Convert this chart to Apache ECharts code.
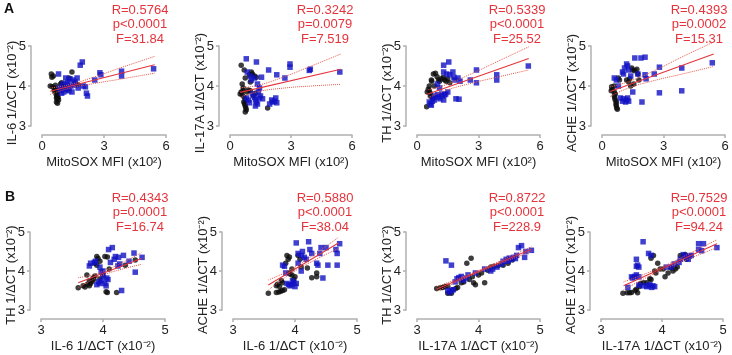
<!DOCTYPE html>
<html>
<head>
<meta charset="utf-8">
<script src="https://cdn.jsdelivr.net/npm/echarts@6/dist/echarts.min.js"></script>
<style>
html, body { margin: 0; padding: 0; background: #fff; }
#chart { width: 732px; height: 355px; }
</style>
</head>
<body>
<div id="chart"></div>
<script>
// tick labels
var xTicksA = [0, 3, 6];
var xTicksB = [3, 4, 5];
var yTicks = [3, 4, 5];

var xNames = ["MitoSOX MFI (x10²)", "MitoSOX MFI (x10²)", "MitoSOX MFI (x10²)", "MitoSOX MFI (x10²)",
  "IL-6 1/ΔCT (x10⁻²)", "IL-6 1/ΔCT (x10⁻²)", "IL-17A 1/ΔCT (x10⁻²)", "IL-17A 1/ΔCT (x10⁻²)"];
var yNames = ["IL-6 1/ΔCT (x10⁻²)", "IL-17A 1/ΔCT (x10⁻²)", "TH 1/ΔCT (x10⁻²)", "ACHE 1/ΔCT (x10⁻²)",
  "TH 1/ΔCT (x10⁻²)", "ACHE 1/ΔCT (x10⁻²)", "TH 1/ΔCT (x10⁻²)", "ACHE 1/ΔCT (x10⁻²)"];
var stats = [
  "R=0.5764\np<0.0001\nF=31.84", "R=0.3242\np=0.0079\nF=7.519",
  "R=0.5339\np<0.0001\nF=25.52", "R=0.4393\np=0.0002\nF=15.31",
  "R=0.4343\np=0.0001\nF=16.74", "R=0.5880\np<0.0001\nF=38.04",
  "R=0.8722\np<0.0001\nF=228.9", "R=0.7529\np<0.0001\nF=94.24"
];

// A1: IL-6 vs MitoSOX
var a1Black = [[0.45,4.30],[0.48,4.22],[0.55,4.25],[0.40,4.00],[0.5,3.98],[0.6,3.95],[0.65,3.92],[0.7,3.88],[0.72,3.85],[0.68,3.8],[0.75,3.78],[0.72,3.74],[0.78,3.72],[0.7,3.7],[0.75,3.68],[0.8,3.65],[0.7,3.6],[0.75,3.57],[0.85,3.9],[0.9,4.05],[0.95,4.08],[1.0,3.95],[1.1,4.0],[1.3,4.2],[1.45,4.35],[1.6,4.08],[1.75,4.03],[1.2,3.9],[0.6,3.88],[0.65,4.02]];
var a1Blue = [[0.8,4.3],[0.85,3.95],[0.9,3.9],[1.0,4.05],[1.1,3.92],[1.15,4.2],[1.2,4.05],[1.25,4.1],[1.3,3.95],[1.35,4.18],[1.4,4.0],[1.45,3.85],[1.5,4.15],[1.55,4.02],[1.6,4.1],[1.7,4.2],[1.75,3.95],[1.85,4.52],[1.95,4.6],[2.0,4.0],[2.1,3.98],[2.15,3.82],[2.2,3.75],[2.55,4.15],[2.8,4.33],[2.85,4.28],[3.85,4.37],[3.85,4.25],[5.4,4.43],[1.05,3.85],[0.95,3.82],[1.3,3.88]];
var a1Fit = [[0.4,3.87],[5.45,4.53]];
var a1BandX = [0.4, 1.3, 2.5, 4.0, 5.45];
var a1BandUp = [3.95, 4.03, 4.22, 4.49, 4.74];
var a1BandLo = [3.79, 3.94, 4.06, 4.19, 4.32];

// A2: IL-17A vs MitoSOX
var a2Black = [[0.55,4.52],[0.7,4.4],[0.75,4.2],[0.6,4.05],[0.65,3.95],[0.55,3.85],[0.5,3.8],[0.6,3.78],[0.7,3.72],[0.75,3.65],[0.68,3.6],[0.72,3.55],[0.75,3.5],[0.78,3.45],[0.8,3.4],[0.75,3.35],[0.9,3.9],[1.0,3.88],[1.05,4.35],[1.1,4.3],[1.2,4.25],[1.3,4.22],[1.15,3.75],[1.25,3.82],[1.85,3.45],[0.65,3.88],[0.85,3.85],[1.0,4.1],[0.95,4.28]];
var a2Blue = [[0.8,4.68],[1.3,4.6],[0.85,4.35],[1.0,4.25],[1.05,4.15],[1.2,4.2],[1.35,4.05],[1.45,3.95],[1.55,4.22],[1.9,4.4],[2.3,4.28],[2.7,4.2],[2.95,4.55],[2.95,4.47],[3.95,4.42],[3.9,4.39],[5.4,4.35],[0.8,3.7],[0.9,3.65],[0.95,3.58],[1.1,3.8],[1.2,3.72],[1.25,3.65],[1.3,3.6],[1.35,3.55],[1.45,3.7],[1.5,3.75],[1.6,3.68],[1.25,3.5],[1.95,3.55],[2.1,3.6],[2.2,3.62],[2.25,3.7],[2.3,3.58],[2.05,3.65],[1.4,3.85]];
var a2Fit = [[0.5,3.84],[5.45,4.42]];
var a2BandX = [0.5, 1.3, 2.5, 4.0, 5.45];
var a2BandUp = [3.96, 4.01, 4.2, 4.5, 4.8];
var a2BandLo = [3.72, 3.85, 3.94, 4.0, 4.04];

// A3: TH vs MitoSOX
var a3Black = [[0.47,3.48],[0.55,3.92],[0.6,3.88],[0.65,3.82],[0.7,4.15],[0.72,4.12],[0.8,4.3],[0.98,4.23],[1.05,4.15],[1.1,4.12],[1.2,4.18],[1.28,4.22],[1.35,4.15],[1.42,4.12],[1.5,4.18],[1.6,4.08],[0.6,4.0],[0.65,3.75],[0.75,3.7],[0.85,4.0],[0.5,3.85],[0.9,4.32]];
var a3Blue = [[0.6,3.6],[0.65,3.55],[0.7,3.52],[0.75,3.62],[0.85,3.65],[0.8,3.7],[0.9,3.75],[1.0,3.78],[1.05,3.72],[1.12,3.68],[1.2,3.8],[1.25,3.75],[1.3,3.65],[1.35,3.78],[1.4,3.8],[1.3,4.52],[1.55,4.6],[1.3,4.35],[1.45,4.3],[1.6,4.28],[1.75,4.35],[1.8,4.22],[1.9,3.68],[2.05,3.67],[1.85,4.15],[2.0,4.2],[2.1,4.12],[2.6,4.15],[2.9,4.4],[2.9,4.08],[3.89,4.28],[3.89,4.15],[5.43,4.5],[1.1,3.95],[1.0,4.05],[1.5,3.85]];
var a3Fit = [[0.47,3.79],[5.45,4.69]];
var a3BandX = [0.47, 1.3, 2.5, 4.0, 5.45];
var a3BandUp = [3.9, 4.01, 4.27, 4.63, 4.98];
var a3BandLo = [3.68, 3.87, 4.05, 4.23, 4.4];

// A4: ACHE vs MitoSOX
var a4Black = [[0.47,3.98],[0.5,3.92],[0.45,3.88],[0.6,3.85],[0.65,3.8],[0.6,3.75],[0.62,3.7],[0.65,3.65],[0.7,3.6],[0.68,3.55],[0.7,3.5],[0.72,3.45],[0.75,3.42],[0.8,4.2],[0.85,4.15],[0.6,4.0],[1.2,4.15],[1.3,4.1],[1.35,4.18],[1.45,4.45],[1.5,4.4],[1.6,4.38],[1.7,4.42],[1.75,4.3],[1.8,4.15],[1.55,4.05],[1.4,4.0]];
var a4Blue = [[0.6,4.2],[0.7,4.15],[0.8,4.0],[0.9,3.7],[1.0,3.62],[1.05,3.68],[1.15,3.6],[1.2,3.65],[1.25,3.7],[1.3,3.62],[1.0,4.35],[1.05,4.3],[1.1,4.45],[1.2,4.55],[1.25,4.5],[1.3,4.4],[1.6,4.7],[1.9,4.7],[2.1,4.72],[1.75,4.3],[2.1,4.28],[2.15,4.18],[1.95,3.6],[2.55,4.3],[2.8,4.47],[2.8,3.83],[3.89,4.45],[3.89,3.88],[5.38,4.58],[1.4,4.25],[1.5,3.85]];
var a4Fit = [[0.4,3.86],[5.45,4.8]];
var a4BandX = [0.4, 1.3, 2.5, 4.0, 5.45];
var a4BandUp = [3.98, 4.11, 4.37, 4.75, 5.1];
var a4BandLo = [3.74, 3.95, 4.13, 4.31, 4.49];

// B1: TH vs IL-6
var b1Black = [[3.6,3.57],[3.71,3.59],[3.75,3.66],[3.78,3.62],[3.82,3.73],[3.8,3.68],[3.85,3.78],[3.87,3.87],[3.74,3.9],[3.9,4.37],[3.92,4.32],[3.95,4.25],[3.87,4.2],[3.9,4.15],[4.03,4.37],[4.07,4.36],[4.05,3.47],[4.07,3.45],[4.22,3.45],[4.36,4.15],[4.52,4.28],[3.78,3.75],[3.84,3.82],[3.95,3.8],[4.0,3.9],[4.1,4.05],[3.68,3.62]];
var b1Blue = [[3.78,4.13],[3.8,4.2],[3.86,4.22],[3.88,4.25],[3.95,4.1],[3.97,3.98],[4.0,3.88],[3.98,3.75],[4.03,3.68],[4.05,3.62],[4.06,3.82],[4.08,3.78],[3.93,3.72],[3.95,3.68],[3.9,3.65],[4.09,4.55],[4.15,4.6],[4.18,4.3],[4.2,4.37],[4.25,4.35],[4.27,4.18],[4.24,4.13],[4.33,4.4],[4.42,4.25],[4.5,4.46],[4.52,3.97],[4.63,4.35],[4.3,3.5],[4.12,4.22],[4.0,4.0]];
var b1Fit = [[3.6,3.7],[4.62,4.32]];
var b1BandX = [3.6, 3.8, 4.02, 4.3, 4.62];
var b1BandUp = [3.83, 3.89, 4.005, 4.205, 4.47];
var b1BandLo = [3.57, 3.75, 3.905, 4.045, 4.17];

// B2: ACHE vs IL-6
var b2Black = [[3.57,3.43],[3.7,3.45],[3.74,3.46],[3.77,3.48],[3.8,3.5],[3.83,3.52],[3.7,3.62],[3.72,3.66],[3.75,3.6],[3.78,3.75],[3.8,3.7],[3.9,3.95],[3.92,3.92],[3.95,3.9],[3.87,4.4],[3.91,4.36],[3.89,4.3],[3.85,4.2],[4.05,4.4],[4.08,4.3],[4.2,4.08],[4.35,3.95],[4.35,3.85],[4.27,3.83],[4.0,3.85],[3.98,3.78],[3.95,4.05],[4.1,4.1]];
var b2Blue = [[3.8,4.15],[3.83,4.12],[3.85,3.95],[3.87,3.68],[3.9,3.65],[3.92,3.62],[3.95,3.65],[3.98,3.7],[3.96,3.75],[4.0,3.6],[4.02,3.68],[4.02,4.72],[4.05,4.45],[4.1,4.4],[4.12,4.5],[4.15,4.35],[4.18,4.3],[4.22,4.75],[4.24,4.55],[4.27,4.45],[4.35,4.2],[4.37,4.15],[4.4,4.45],[4.42,4.6],[4.45,3.82],[4.53,4.15],[4.5,4.6],[4.66,4.55],[4.68,4.45],[4.68,4.15],[4.72,4.7],[4.05,4.2],[4.1,4.0]];
var b2Fit = [[3.57,3.64],[4.7,4.72]];
var b2BandX = [3.57, 3.8, 4.03, 4.35, 4.7];
var b2BandUp = [3.77, 3.93, 4.13, 4.466, 4.86];
var b2BandLo = [3.51, 3.79, 4.03, 4.306, 4.58];

// B3: TH vs IL-17A
var b3Black = [[3.32,3.55],[3.38,3.57],[3.42,3.58],[3.46,3.6],[3.5,3.61],[3.5,3.43],[3.53,3.44],[3.56,3.43],[3.58,3.52],[3.63,3.55],[3.66,3.58],[3.72,3.7],[3.76,3.72],[3.81,4.2],[3.88,4.33],[3.9,3.85],[3.92,3.7],[3.95,3.65],[4.1,3.7],[4.0,3.9],[4.05,3.95],[4.2,4.1],[4.25,4.12],[4.32,4.14],[4.4,4.15],[4.48,4.2],[4.55,4.28],[3.85,3.78],[4.15,4.02]];
var b3Blue = [[3.47,4.26],[3.56,4.15],[3.5,3.5],[3.53,3.45],[3.56,3.5],[3.59,3.52],[3.65,3.8],[3.68,3.83],[3.72,3.86],[3.75,3.76],[3.8,3.82],[3.83,3.9],[3.95,3.95],[4.2,4.0],[4.23,4.05],[4.3,4.1],[4.38,4.18],[4.45,4.3],[4.48,4.25],[4.5,4.33],[4.53,4.3],[4.57,4.35],[4.6,4.32],[4.62,4.4],[4.75,4.35],[4.77,4.5],[4.65,4.6],[4.7,4.65],[4.86,4.53],[4.4,4.25],[4.1,4.05],[3.62,3.72]];
var b3Fit = [[3.32,3.54],[4.86,4.56]];
var b3BandX = [3.32, 3.65, 4.0, 4.4, 4.86];
var b3BandUp = [3.6, 3.793, 4.015, 4.29, 4.62];
var b3BandLo = [3.48, 3.723, 3.965, 4.22, 4.5];

// B4: ACHE vs IL-17A
var b4Black = [[3.36,3.43],[3.43,3.44],[3.47,3.44],[3.5,3.45],[3.56,3.5],[3.58,3.53],[3.6,3.44],[3.63,3.6],[3.65,3.68],[3.7,3.7],[3.75,3.7],[3.8,3.8],[3.82,3.78],[3.82,4.33],[3.86,4.4],[3.88,4.0],[3.9,3.95],[3.93,4.2],[3.97,4.05],[4.02,4.05],[4.05,3.85],[4.1,3.95],[4.18,4.0],[4.22,4.05],[4.25,4.1],[4.3,4.4],[4.35,4.38],[4.38,4.42],[4.4,4.3],[4.15,4.08]];
var b4Blue = [[3.69,4.75],[3.58,4.3],[3.6,4.15],[3.58,4.12],[3.62,4.1],[3.5,3.85],[3.52,3.82],[3.55,3.86],[3.58,3.9],[3.62,3.85],[3.44,3.58],[3.62,3.64],[3.69,3.62],[3.75,3.6],[3.78,3.62],[3.8,3.65],[3.85,3.62],[3.88,3.6],[3.83,3.58],[3.78,4.45],[3.82,4.4],[4.07,4.1],[4.15,4.1],[4.2,4.18],[4.28,4.22],[4.35,4.42],[4.38,4.38],[4.4,4.35],[4.43,4.3],[4.45,4.38],[4.48,4.4],[4.6,4.7],[4.68,4.7],[4.6,4.55],[4.65,4.52],[4.9,4.6],[4.3,4.3]];
var b4Fit = [[3.37,3.62],[4.9,4.7]];
var b4BandX = [3.37, 3.7, 4.0, 4.4, 4.9];
var b4BandUp = [3.72, 3.913, 4.105, 4.407, 4.8];
var b4BandLo = [3.52, 3.793, 4.025, 4.287, 4.6];

var panels = [
  { black: a1Black, blue: a1Blue, fit: a1Fit, bx: a1BandX, up: a1BandUp, lo: a1BandLo },
  { black: a2Black, blue: a2Blue, fit: a2Fit, bx: a2BandX, up: a2BandUp, lo: a2BandLo },
  { black: a3Black, blue: a3Blue, fit: a3Fit, bx: a3BandX, up: a3BandUp, lo: a3BandLo },
  { black: a4Black, blue: a4Blue, fit: a4Fit, bx: a4BandX, up: a4BandUp, lo: a4BandLo },
  { black: b1Black, blue: b1Blue, fit: b1Fit, bx: b1BandX, up: b1BandUp, lo: b1BandLo },
  { black: b2Black, blue: b2Blue, fit: b2Fit, bx: b2BandX, up: b2BandUp, lo: b2BandLo },
  { black: b3Black, blue: b3Blue, fit: b3Fit, bx: b3BandX, up: b3BandUp, lo: b3BandLo },
  { black: b4Black, blue: b4Blue, fit: b4Fit, bx: b4BandX, up: b4BandUp, lo: b4BandLo }
];

// plot boxes in pixels
var boxes = [
  { left: 42, top: 46, width: 124, height: 80 },
  { left: 230, top: 46, width: 122, height: 80 },
  { left: 417, top: 46, width: 123, height: 80 },
  { left: 602, top: 46, width: 123, height: 80 },
  { left: 41, top: 232, width: 124, height: 78 },
  { left: 233, top: 232, width: 124, height: 78 },
  { left: 417, top: 232, width: 123, height: 78 },
  { left: 601, top: 232, width: 122, height: 78 }
];
var statPos = [[140, 3], [325, 3], [517, 3], [699, 3], [140, 191], [325, 191], [517, 191], [699, 191]];

var font = "Liberation Sans, Arial, sans-serif";
var axisGrey = "#b0b0b0";
var red = "#e6333b";

var myChart = echarts.init(document.getElementById("chart"));

var grids = [], xAxes = [], yAxes = [], series = [], graphics = [];

panels.forEach(function (p, i) {
  var xt = i < 4 ? xTicksA : xTicksB;
  grids.push({ left: boxes[i].left, top: boxes[i].top, width: boxes[i].width, height: boxes[i].height });
  xAxes.push({
    gridIndex: i, type: "value",
    min: xt[0], max: xt[xt.length - 1], interval: xt[1] - xt[0],
    offset: 9,
    name: xNames[i], nameLocation: "middle", nameGap: 21,
    nameMoveOverlap: false,
    nameTextStyle: { fontFamily: font, fontSize: 13, color: "#222" },
    axisLine: { show: true, onZero: false, lineStyle: { color: axisGrey, width: 1.5 } },
    axisTick: { show: true, length: 3, lineStyle: { color: axisGrey, width: 1.5 } },
    axisLabel: { fontFamily: font, fontSize: 13, color: "#222", margin: 5 },
    splitLine: { show: false }
  });
  yAxes.push({
    gridIndex: i, type: "value",
    min: yTicks[0], max: yTicks[yTicks.length - 1], interval: yTicks[1] - yTicks[0],
    offset: 11,
    name: yNames[i], nameLocation: "middle", nameGap: 12,
    nameMoveOverlap: false,
    nameTextStyle: { fontFamily: font, fontSize: 13, color: "#222", padding: [0, i < 4 ? 14 : 8, 0, 0] },
    axisLine: { show: true, onZero: false, lineStyle: { color: axisGrey, width: 1.5 } },
    axisTick: { show: true, length: 3, lineStyle: { color: axisGrey, width: 1.5 } },
    axisLabel: { fontFamily: font, fontSize: 13, color: "#222", margin: 5 },
    splitLine: { show: false }
  });

  series.push({
    type: "scatter", xAxisIndex: i, yAxisIndex: i,
    symbol: "circle", symbolSize: 5.5,
    itemStyle: { color: "#0d0d0d" },
    data: p.black, z: 2
  });
  series.push({
    type: "scatter", xAxisIndex: i, yAxisIndex: i,
    symbol: "rect", symbolSize: 5.5,
    itemStyle: { color: "#1212c4" },
    data: p.blue, z: 2
  });
  series.push({
    type: "line", xAxisIndex: i, yAxisIndex: i,
    symbol: "none", clip: false,
    lineStyle: { color: red, width: 1.1 },
    data: p.fit, z: 4
  });
  [p.up, p.lo].forEach(function (band) {
    series.push({
      type: "line", xAxisIndex: i, yAxisIndex: i,
      symbol: "none", smooth: true, clip: false,
      lineStyle: { color: "#e4584a", width: 1, type: "dotted" },
      data: p.bx.map(function (x, k) { return [x, band[k]]; }),
      z: 3
    });
  });

  graphics.push({
    type: "text", left: statPos[i][0] - 35, top: statPos[i][1],
    style: {
      text: stats[i], fill: red, font: "13px " + font,
      textAlign: "center", lineHeight: 14.5, width: 70
    }
  });
});

graphics.push({ type: "text", left: 4, top: 2, style: { text: "A", fill: "#111", font: "bold 14px " + font } });
graphics.push({ type: "text", left: 5, top: 190, style: { text: "B", fill: "#111", font: "bold 14px " + font } });

myChart.setOption({
  animation: false,
  grid: grids,
  xAxis: xAxes,
  yAxis: yAxes,
  series: series,
  graphic: graphics
});
</script>
</body>
</html>
